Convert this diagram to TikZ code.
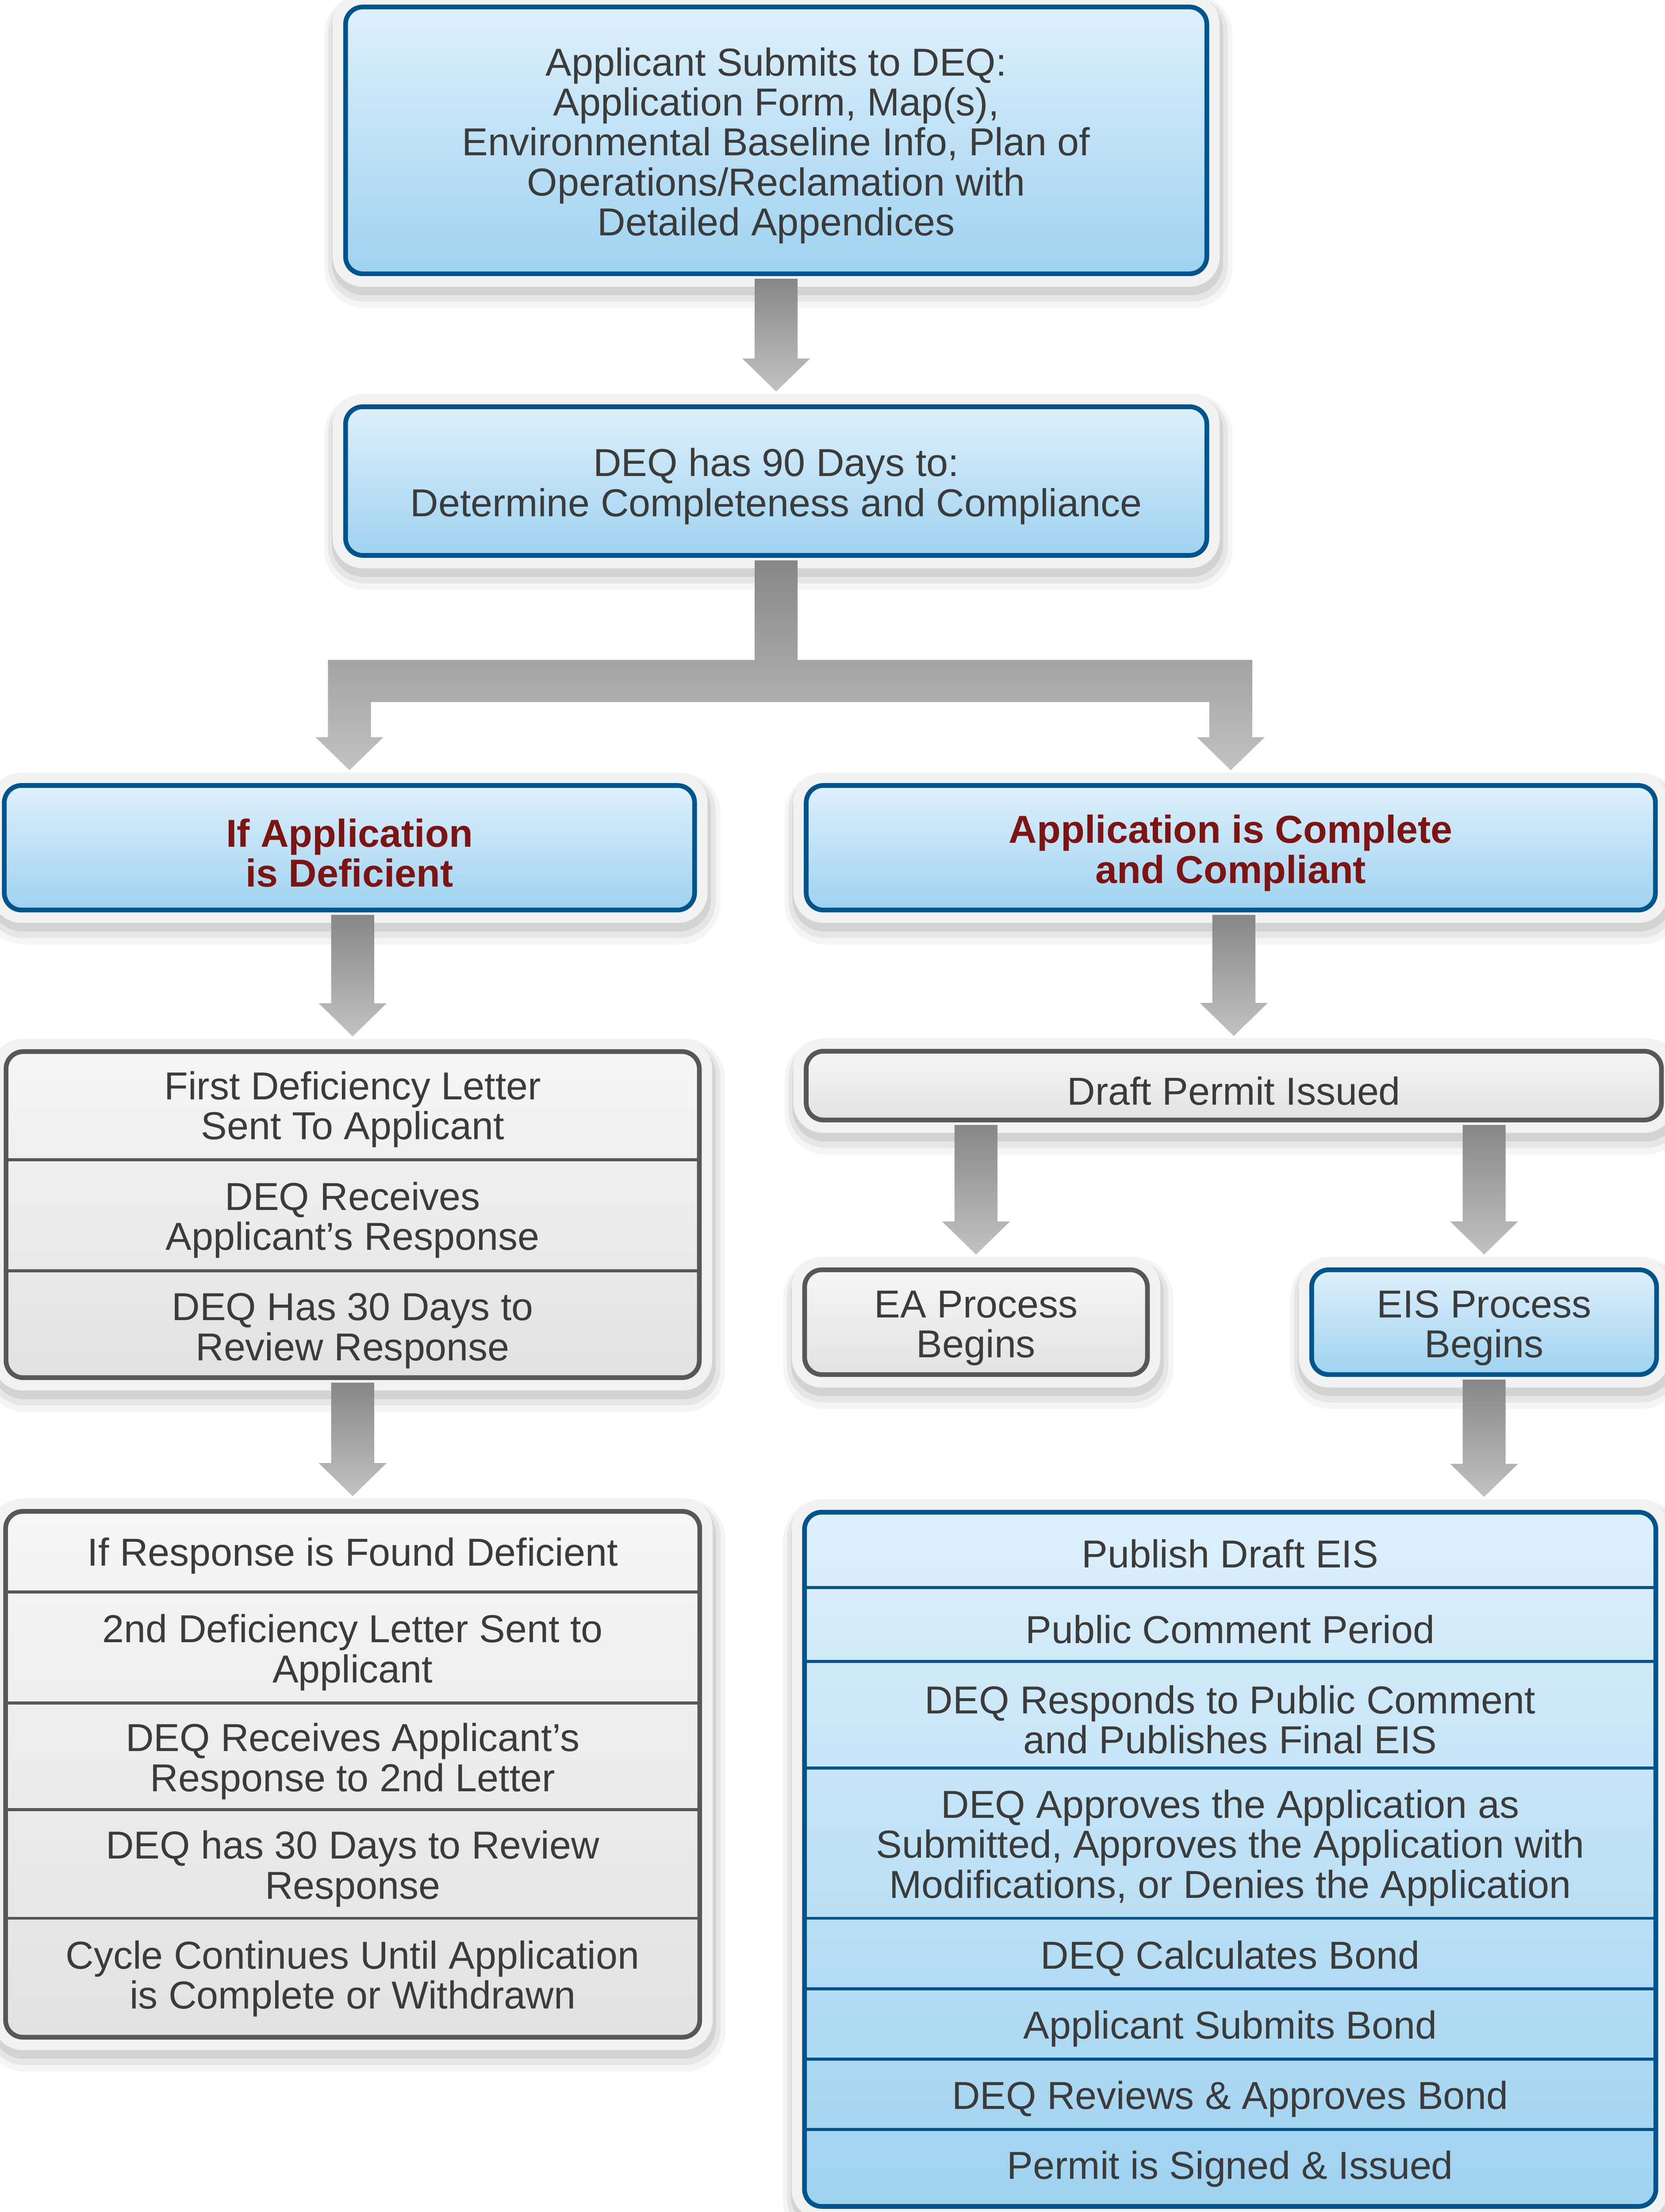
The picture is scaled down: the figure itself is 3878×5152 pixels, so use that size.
\documentclass[tikz,border=0pt]{standalone}
\usepackage{fontspec}
\setmainfont{Liberation Sans}
\usetikzlibrary{calc,shadows}
\definecolor{bluetop}{HTML}{DEF0FC}
\definecolor{bluebot}{HTML}{9FD2F0}
\definecolor{blueline}{HTML}{00548C}
\definecolor{graytop}{HTML}{F6F6F6}
\definecolor{graybot}{HTML}{E2E2E2}
\definecolor{grayline}{HTML}{575757}
\definecolor{halocol}{HTML}{F2F2F2}
\definecolor{txtcol}{HTML}{3B3B3B}
\definecolor{redtxt}{HTML}{7C1414}
\definecolor{arrtop}{HTML}{878787}
\definecolor{arrbot}{HTML}{C2C2C2}
\newcommand\mainsz{\fontsize{25.8pt}{26.5pt}\selectfont}
\newcommand\tup{\rule{0pt}{25.6pt}}
\tikzset{
  base/.style={rounded corners=0.4cm, line width=0.11cm, inner sep=0pt, align=center,
    text=txtcol, font=\mainsz,
    general shadow={draw=black, draw opacity=0.04, line width=1.1cm, shadow yshift=-0.25cm, shadow xshift=0.05cm},
    general shadow={draw=black, draw opacity=0.06, line width=0.9cm, shadow yshift=-0.2cm, shadow xshift=0.04cm},
    general shadow={draw=black, draw opacity=0.08, line width=0.7cm, shadow yshift=-0.15cm, shadow xshift=0.03cm},
    preaction={draw=halocol, line width=0.6cm}},
  bluebox/.style={base, draw=blueline, top color=bluetop, bottom color=bluebot},
  graybox/.style={base, draw=grayline, top color=graytop, bottom color=graybot},
  titletxt/.style={font=\mainsz\bfseries, text=redtxt},
  rowtxt/.style={inner sep=0pt, align=center, text=txtcol, font=\mainsz},
  divgray/.style={draw=grayline, line width=0.07cm},
  divblue/.style={draw=blueline, line width=0.07cm},
  arrowshade/.style={top color=arrtop, bottom color=arrbot, draw=none}
}
% arrow centred on the target
\newcommand\garrow[2]{%
  \shade[arrowshade] ($(#2.north|-#1.south)+(-50,6)$) -- ($(#2.north|-#1.south)+(50,6)$)
    -- ($(#2.north)+(50,-107)$) -- ($(#2.north)+(79,-107)$) -- ($(#2.north)+(0,-30)$)
    -- ($(#2.north)+(-79,-107)$) -- ($(#2.north)+(-50,-107)$) -- cycle;}
% arrow centred on the source
\newcommand\garrowsrc[2]{%
  \shade[arrowshade] ($(#1.south)+(-50,6)$) -- ($(#1.south)+(50,6)$)
    -- ($(#1.south|-#2.north)+(50,-107)$) -- ($(#1.south|-#2.north)+(79,-107)$) -- ($(#1.south|-#2.north)+(0,-30)$)
    -- ($(#1.south|-#2.north)+(-79,-107)$) -- ($(#1.south|-#2.north)+(-50,-107)$) -- cycle;}
\begin{document}
\begin{tikzpicture}[x=0.01cm, y=-0.01cm]
\useasboundingbox (0,0) rectangle (3878,5152);
\fill[white] (0,0) rectangle (3878,5152);

% boxes
\node[bluebox, minimum width=20.05cm, minimum height=6.21cm] (top) at (1808,327)
  {\tup Applicant Submits to DEQ:\\Application Form, Map(s),\\Environmental Baseline Info, Plan of\\Operations/Reclamation with\\Detailed Appendices};
\node[bluebox, minimum width=20.05cm, minimum height=3.46cm] (b2) at (1808,1120.5)
  {\tup DEQ has 90 Days to:\\Determine Completeness and Compliance};
\node[bluebox, titletxt, minimum width=16.07cm, minimum height=2.90cm] (ldef) at (814,1974.5)
  {\tup If Application\\is Deficient};
\node[bluebox, titletxt, minimum width=19.77cm, minimum height=2.90cm] (rcomp) at (2867,1974.5)
  {\tup Application is Complete\\and Compliant};

\node[graybox, minimum width=16.14cm, minimum height=7.59cm] (def1) at (821.5,2829) {};
\node[rowtxt, minimum width=16.14cm, minimum height=2.56cm] (r11) at (821.5,2572) {\tup First Deficiency Letter\\Sent To Applicant};
\node[rowtxt, minimum width=16.14cm, minimum height=2.59cm] (r12) at (821.5,2829.5) {\tup DEQ Receives\\Applicant’s Response};
\node[rowtxt, minimum width=16.14cm, minimum height=2.55cm] (r13) at (821.5,3086.5) {\tup DEQ Has 30 Days to\\Review Response};
\draw[divgray] (r11.south west) -- (r11.south east);
\draw[divgray] (r12.south west) -- (r12.south east);

\node[graybox, minimum width=19.91cm, minimum height=1.60cm] (draft) at (2874,2528.5) {\tup Draft Permit Issued};
\node[graybox, minimum width=7.98cm, minimum height=2.44cm] (ea) at (2273.5,3079.5) {\tup EA Process\\Begins};
\node[bluebox, minimum width=8.03cm, minimum height=2.44cm] (eis) at (3457,3079.5) {\tup EIS Process\\Begins};

\node[graybox, minimum width=16.16cm, minimum height=12.24cm] (def2) at (821.5,4132.5) {};
\node[rowtxt, minimum width=16.16cm, minimum height=1.92cm] (r21) at (821.5,3611) {\tup If Response is Found Deficient};
\node[rowtxt, minimum width=16.16cm, minimum height=2.59cm] (r22) at (821.5,3836.5) {\tup 2nd Deficiency Letter Sent to\\Applicant};
\node[rowtxt, minimum width=16.16cm, minimum height=2.48cm] (r23) at (821.5,4090) {\tup DEQ Receives Applicant’s\\Response to 2nd Letter};
\node[rowtxt, minimum width=16.16cm, minimum height=2.53cm] (r24) at (821.5,4340.5) {\tup DEQ has 30 Days to Review\\Response};
\node[rowtxt, minimum width=16.16cm, minimum height=2.83cm] (r25) at (821.5,4608.5) {Cycle Continues Until Application\\is Complete or Withdrawn};
\draw[divgray] (r21.south west) -- (r21.south east);
\draw[divgray] (r22.south west) -- (r22.south east);
\draw[divgray] (r23.south west) -- (r23.south east);
\draw[divgray] (r24.south west) -- (r24.south east);

\node[bluebox, minimum width=19.82cm, minimum height=16.16cm] (eisst) at (2865.5,4330.5) {};
\node[rowtxt, minimum width=19.82cm, minimum height=1.80cm] (e1) at (2865.5,3607) {\tup Publish Draft EIS};
\node[rowtxt, minimum width=19.82cm, minimum height=1.72cm] (e2) at (2865.5,3783) {\tup Public Comment Period};
\node[rowtxt, minimum width=19.82cm, minimum height=2.48cm] (e3) at (2865.5,3993) {\tup DEQ Responds to Public Comment\\and Publishes Final EIS};
\node[rowtxt, minimum width=19.82cm, minimum height=3.50cm] (e4) at (2865.5,4292) {\tup DEQ Approves the Application as\\Submitted, Approves the Application with\\Modifications, or Denies the Application};
\node[rowtxt, minimum width=19.82cm, minimum height=1.64cm] (e5) at (2865.5,4549) {\tup DEQ Calculates Bond};
\node[rowtxt, minimum width=19.82cm, minimum height=1.64cm] (e6) at (2865.5,4713) {\tup Applicant Submits Bond};
\node[rowtxt, minimum width=19.82cm, minimum height=1.64cm] (e7) at (2865.5,4877) {\tup DEQ Reviews \& Approves Bond};
\node[rowtxt, minimum width=19.82cm, minimum height=1.85cm] (e8) at (2865.5,5051.5) {Permit is Signed \& Issued};
\draw[divblue] (e1.south west) -- (e1.south east);
\draw[divblue] (e2.south west) -- (e2.south east);
\draw[divblue] (e3.south west) -- (e3.south east);
\draw[divblue] (e4.south west) -- (e4.south east);
\draw[divblue] (e5.south west) -- (e5.south east);
\draw[divblue] (e6.south west) -- (e6.south east);
\draw[divblue] (e7.south west) -- (e7.south east);

% connectors
\coordinate (bartop) at (0,1537);
\coordinate (barbot) at (0,1635);
\garrow{top}{b2}
\shade[arrowshade]
  ($(b2.south)+(-50,6)$) -- ($(b2.south)+(50,6)$) -- ($(b2.south|-bartop)+(50,0)$)
  -- ($(rcomp.north|-bartop)+(50,0)$) -- ($(rcomp.north)+(50,-107)$) -- ($(rcomp.north)+(79,-107)$)
  -- ($(rcomp.north)+(0,-30)$) -- ($(rcomp.north)+(-79,-107)$) -- ($(rcomp.north)+(-50,-107)$)
  -- ($(rcomp.north|-barbot)+(-50,0)$) -- ($(ldef.north|-barbot)+(50,0)$)
  -- ($(ldef.north)+(50,-107)$) -- ($(ldef.north)+(79,-107)$) -- ($(ldef.north)+(0,-30)$)
  -- ($(ldef.north)+(-79,-107)$) -- ($(ldef.north)+(-50,-107)$) -- ($(ldef.north|-bartop)+(-50,0)$)
  -- ($(b2.south|-bartop)+(-50,0)$) -- cycle;
\garrow{ldef}{def1}
\garrow{rcomp}{draft}
\garrow{draft}{ea}
\garrow{draft}{eis}
\garrow{def1}{def2}
\garrowsrc{eis}{eisst}
\end{tikzpicture}
\end{document}
